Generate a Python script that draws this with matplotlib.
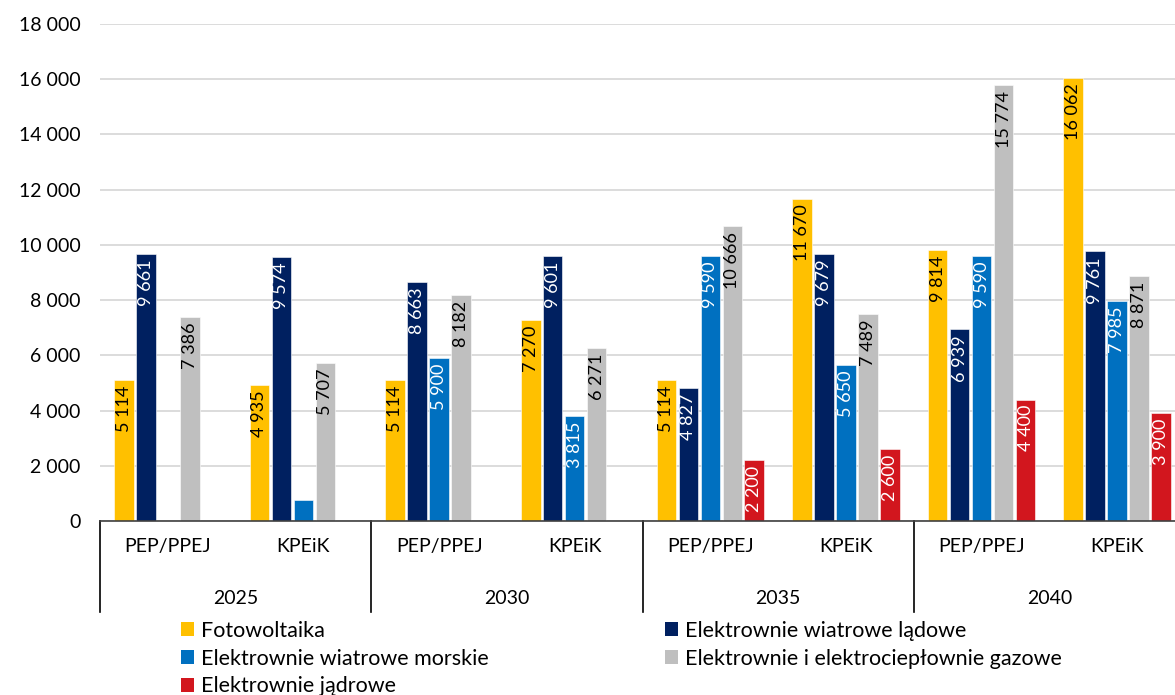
import matplotlib as mpl
mpl.use('Agg')
import matplotlib.pyplot as plt
from matplotlib.patches import Patch
from matplotlib.transforms import blended_transform_factory
import numpy as np

plt.rcParams['font.family'] = ['Lato', 'DejaVu Sans']

years = ['2025', '2030', '2035', '2040']
scenarios = ['PEP/PPEJ', 'KPEiK']

names = ['Fotowoltaika', 'Elektrownie wiatrowe lądowe', 'Elektrownie wiatrowe morskie',
         'Elektrownie i elektrociepłownie gazowe', 'Elektrownie jądrowe']
pv = [5114, 4935, 5114, 7270, 5114, 11670, 9814, 16062]
onshore = [9661, 9574, 8663, 9601, 4827, 9679, 6939, 9761]
offshore = [0, 760, 5900, 3815, 9590, 5650, 9590, 7985]
gas = [7386, 5707, 8182, 6271, 10666, 7489, 15774, 8871]
nuclear = [0, 0, 0, 0, 2200, 2600, 4400, 3900]

colors = ['#FFC000', '#002060', '#0070C0', '#BFBFBF', '#D2161E']
label_colors = ['black', 'white', 'white', 'black', 'white']


def fmt(v):
    return f'{int(v):,}'.replace(',', ' ')


fig = plt.figure(figsize=(11.75, 6.95), dpi=100)
ax = fig.add_axes([100/1175, 1 - 521/695, 1085/1175, 497/695])

x = np.arange(8)
slot = 0.162
width = 0.144
all_series = [pv, onshore, offshore, gas, nuclear]
for i, vals in enumerate(all_series):
    xs = x + (i - 2) * slot
    bars = ax.bar(xs, vals, width, color=colors[i], edgecolor='white', linewidth=0.4, zorder=2)
    for b, v in zip(bars, vals):
        if v <= 0:
            continue
        xc = b.get_x() + b.get_width() / 2
        if v < 1500:
            # too short: label falls outside, white on white as in the source
            ax.annotate(fmt(v), (xc, v), xytext=(0, 3), textcoords='offset points',
                        rotation=90, ha='center', va='bottom', fontsize=13,
                        color=label_colors[i], zorder=3)
        else:
            ax.annotate(fmt(v), (xc, v), xytext=(0, -4), textcoords='offset points',
                        rotation=90, ha='center', va='top', fontsize=13,
                        color=label_colors[i], zorder=3)

ax.set_xlim(-0.5, 7.5)
ax.set_ylim(0, 18000)
ax.set_yticks(np.arange(0, 18001, 2000))
ax.set_yticklabels([fmt(v) for v in np.arange(0, 18001, 2000)], fontsize=14)
ax.yaxis.grid(True, color='#D9D9D9', linewidth=1.3, zorder=0)
ax.tick_params(axis='y', length=0, pad=14)
for s in ['top', 'right', 'left']:
    ax.spines[s].set_visible(False)
ax.spines['bottom'].set_color('#404040')
ax.spines['bottom'].set_linewidth(1.2)

ax.set_xticks(x)
ax.set_xticklabels(scenarios * 4, fontsize=14)
ax.tick_params(axis='x', length=0, pad=12)

trans = blended_transform_factory(ax.transData, ax.transAxes)
for k, yr in enumerate(years):
    ax.text(2 * k + 0.5, -0.155, yr, transform=trans, ha='center', va='center', fontsize=14)
for k in range(4):
    ax.plot([2 * k - 0.5, 2 * k - 0.5], [0, -0.183], transform=trans, color='black',
            linewidth=1.2, clip_on=False)

order = [0, 2, 4, 1, 3]
handles = [Patch(facecolor=colors[i], label=names[i]) for i in order]
fig.legend(handles=handles, ncol=2, loc='upper left', bbox_to_anchor=(181/1175, 1 - 621/695),
           frameon=False, fontsize=15.5, handlelength=0.62, handleheight=0.62,
           handletextpad=0.3, labelspacing=0.36, columnspacing=8.2, borderpad=0,
           borderaxespad=0)

fig.savefig('out.png', dpi=100)
